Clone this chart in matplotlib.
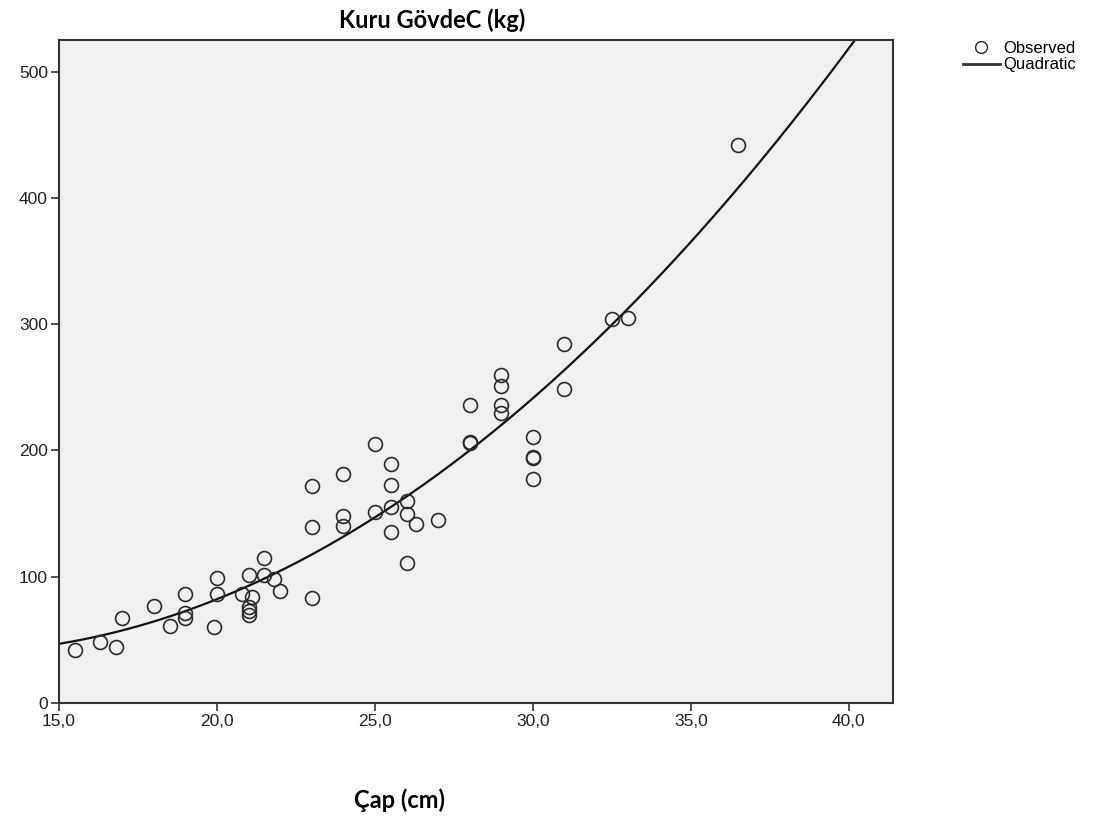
import numpy as np
import matplotlib.pyplot as plt
from matplotlib.lines import Line2D
from matplotlib.ticker import FuncFormatter

cap_cm = [15.5, 16.3, 16.8, 17.0, 18.0, 18.5, 19.0, 19.0, 19.0, 19.9,
          20.0, 20.0, 20.8, 21.0, 21.1, 21.0, 21.0, 21.0, 21.5, 21.5,
          21.8, 22.0, 23.0, 23.0, 23.0, 24.0, 24.0, 24.0, 25.0, 25.0,
          25.5, 25.5, 25.5, 25.5, 26.0, 26.0, 26.0, 26.3, 27.0, 28.0,
          28.0, 28.0, 29.0, 29.0, 29.0, 29.0, 30.0, 30.0, 30.0, 30.0,
          31.0, 31.0, 32.5, 33.0, 36.5]
kuru_kg = [42, 48, 44, 67, 77, 61, 86, 71, 67, 60,
           99, 86, 86, 101, 84, 76, 73, 70, 115, 101,
           98, 89, 172, 139, 83, 181, 148, 140, 205, 151,
           189, 173, 155, 135, 160, 150, 111, 142, 145, 236,
           207, 206, 260, 251, 236, 230, 211, 195, 194, 177,
           284, 249, 304, 305, 442]

x_ticks = [15, 20, 25, 30, 35, 40]
y_ticks = [0, 100, 200, 300, 400, 500]

fig = plt.figure(figsize=(11.07, 8.16), dpi=100)
ax = fig.add_axes([0.0533, 0.1385, 0.7534, 0.8125])
ax.set_facecolor('#f0f0f0')

# quadratic fit, like the SPSS curve estimation
coef = np.polyfit(cap_cm, kuru_kg, 2)
xs = np.linspace(15, 41.4, 300)
ax.plot(xs, np.polyval(coef, xs), color='#111111', lw=1.6, zorder=2)

ax.plot(cap_cm, kuru_kg, 'o', ms=10, mfc='none', mec='#2a2a2a', mew=1.2,
        zorder=3)

ax.set_xlim(15, 41.4)
ax.set_ylim(0, 525)
ax.set_xticks(x_ticks)
ax.set_yticks(y_ticks)
ax.xaxis.set_major_formatter(FuncFormatter(lambda v, p: f'{v:.1f}'.replace('.', ',')))

for s in ax.spines.values():
    s.set_color('#333333')
    s.set_linewidth(1.5)
ax.tick_params(direction='out', length=6, width=1.2, color='#333333',
               labelsize=12.5, labelcolor='#222222', pad=2)
for lab in ax.get_xticklabels() + ax.get_yticklabels():
    lab.set_family('Liberation Sans')

fig.text(432 / 1107, 1 - 20 / 816, 'Kuru GövdeC (kg)', ha='center',
         va='center', fontsize=17, fontweight='bold', family='Lato')
fig.text(400 / 1107, 1 - 800 / 816, 'Çap (cm)', ha='center', va='center',
         fontsize=17, fontweight='bold', family='Lato')

handles = [Line2D([], [], ls='none', marker='o', ms=8.5, mfc='none',
                  mec='#333333', mew=1.1),
           Line2D([], [], color='#333333', lw=2)]
fig.legend(handles, ['Observed', 'Quadratic'], loc='upper left',
           bbox_to_anchor=(963 / 1107, 1 - 41 / 816), frameon=False,
           borderaxespad=0, borderpad=0,
           prop={'family': 'Liberation Sans', 'size': 12},
           handlelength=2.2, handletextpad=0.2, labelspacing=0.08)

fig.savefig('out.png', dpi=100)
